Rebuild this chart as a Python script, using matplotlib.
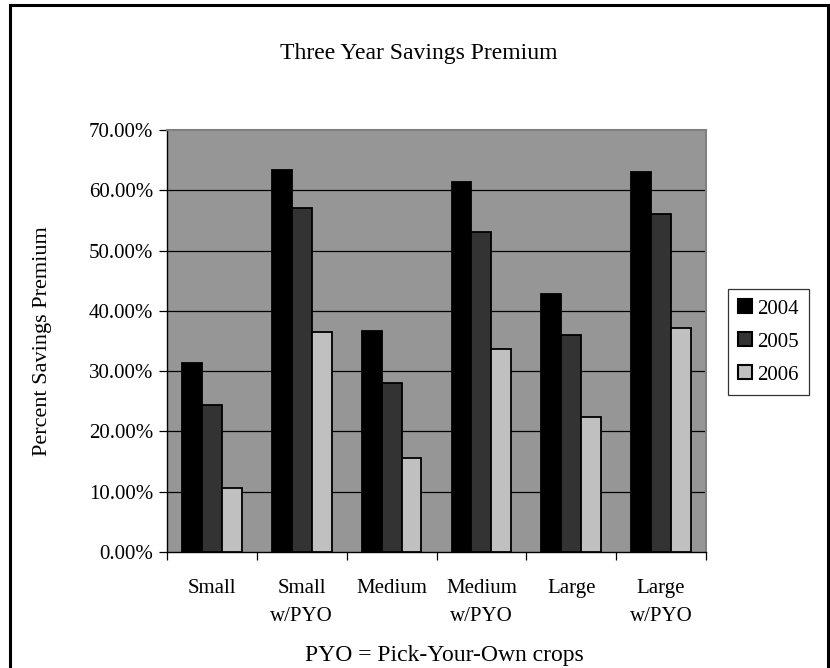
import matplotlib
matplotlib.use("Agg")
import matplotlib.pyplot as plt
import matplotlib.patches as patches
from matplotlib.ticker import FuncFormatter, FixedLocator
import numpy as np

plt.rcParams['font.family'] = ['Liberation Serif', 'DejaVu Serif']

categories = ["Small", "Small\nw/PYO", "Medium", "Medium\nw/PYO", "Large", "Large\nw/PYO"]
years = ["2004", "2005", "2006"]
premium_2004 = [31.4, 63.4, 36.7, 61.3, 42.8, 63.0]
premium_2005 = [24.4, 57.1, 28.0, 53.0, 36.0, 56.0]
premium_2006 = [10.6, 36.5, 15.6, 33.7, 22.4, 37.2]
series = [premium_2004, premium_2005, premium_2006]
colors = ["#000000", "#333333", "#C0C0C0"]

W, H = 830, 668
fig = plt.figure(figsize=(W / 100, H / 100), dpi=100)
fig.patch.set_facecolor("white")

# plot area in pixel terms
left, right, top, bottom = 167, 706, 130, 552
ax = fig.add_axes([left / W, (H - bottom) / H, (right - left) / W, (bottom - top) / H])
ax.set_facecolor("#969696")

x = np.arange(len(categories))
bw = 0.222
for i, (vals, c) in enumerate(zip(series, colors)):
    ax.bar(x + (i - 1) * bw, vals, width=bw, color=c, edgecolor="black",
           linewidth=1.3, label=years[i], zorder=3)

ax.set_xlim(-0.5, len(categories) - 0.5)
ax.set_ylim(0, 70)
ax.set_yticks(np.arange(0, 71, 10))
ax.yaxis.set_major_formatter(FuncFormatter(lambda v, p: "%.2f%%" % v))
for yv in range(10, 70, 10):
    ax.axhline(yv, color="black", linewidth=0.9, zorder=1)

# category labels drawn as text so the two-line ones get wider spacing
ax.set_xticks(x)
ax.set_xticklabels([])
for xi, name in zip(x, categories):
    ax.text(xi, -(579 - bottom) / (bottom - top), name, transform=ax.get_xaxis_transform(),
            ha="center", va="top", fontsize=15, linespacing=1.65)
ax.xaxis.set_minor_locator(FixedLocator(np.arange(-0.5, len(categories), 1.0)))
ax.tick_params(axis="x", which="major", length=0)
ax.tick_params(axis="x", which="minor", length=6, width=0.9, direction="out")
ax.tick_params(axis="y", length=6, width=0.9, direction="out", pad=4, labelsize=15)

for side in ("left", "bottom"):
    ax.spines[side].set_color("black")
    ax.spines[side].set_linewidth(1.0)
for side in ("top", "right"):
    ax.spines[side].set_color("#808080")
    ax.spines[side].set_linewidth(1.5)

ax.set_ylabel("Percent Savings Premium", fontsize=16)
ax.yaxis.set_label_coords((52 - left) / (right - left), 0.5)

fig.text(419 / W, (H - 53) / H, "Three Year Savings Premium", fontsize=17,
         ha="center", va="center")
fig.text(444 / W, (H - 655) / H, "PYO = Pick-Your-Own crops", fontsize=17,
         ha="center", va="center")

leg = ax.legend(loc="upper left", bbox_to_anchor=(728 / W, (H - 289) / H),
                bbox_transform=fig.transFigure, fontsize=15, frameon=True,
                fancybox=False, borderaxespad=0, handlelength=0.65,
                handleheight=0.65, handletextpad=0.25, labelspacing=0.66,
                borderpad=0.5)
leg.get_frame().set_edgecolor("black")
leg.get_frame().set_linewidth(0.9)
for h in leg.legend_handles:
    h.set_linewidth(1.5)

# outer chart border (bottom edge runs off the image)
border = patches.Rectangle((9.5 / W, -0.1), (827.5 - 9.5) / W, (H - 4.5) / H + 0.1,
                           transform=fig.transFigure, fill=False,
                           edgecolor="black", linewidth=2.2, clip_on=False)
fig.patches.append(border)

fig.savefig("out.png", dpi=100)
